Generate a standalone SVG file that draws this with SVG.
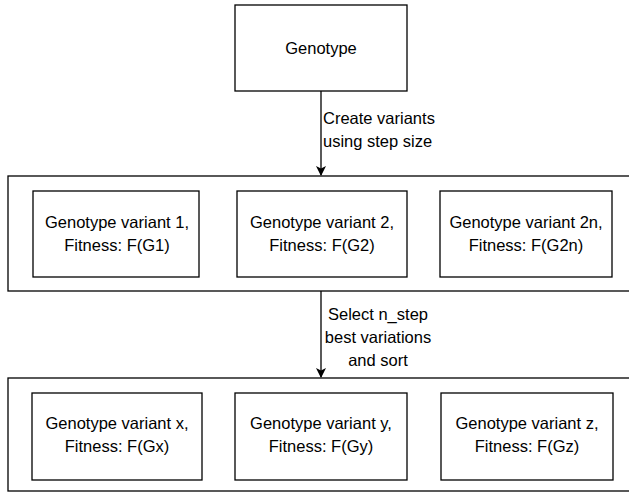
<svg xmlns="http://www.w3.org/2000/svg" width="629" height="495" viewBox="0 0 629 495">
<style>
.box{fill:#fff;stroke:#000;stroke-width:1.3}
.t{font-family:"Liberation Sans",Arial,sans-serif;font-size:16.5px;fill:#000}
.c{text-anchor:middle}
.edge{stroke:#000;stroke-width:1.3;fill:none}
</style>
<defs>
<marker id="arr" markerWidth="10" markerHeight="12" refX="9" refY="5" orient="auto" markerUnits="userSpaceOnUse">
<path d="M0,0 L10,5 L0,10 L2.5,5 Z" fill="#000"/>
</marker>
</defs>
<rect width="629" height="495" fill="#fff"/>
<g id="genotype">
<rect class="box" x="235" y="5" width="172" height="86"/>
<text class="t c" x="321" y="54">Genotype</text>
</g>
<g id="container1">
<rect class="box" x="8" y="176" width="630" height="115"/>
</g>
<g id="variant1">
<rect class="box" x="33" y="191" width="166" height="86"/>
<text class="t c" x="117" y="228">Genotype variant 1,</text>
<text class="t c" x="117" y="251">Fitness: F(G1)</text>
</g>
<g id="variant2">
<rect class="box" x="237" y="191" width="170" height="86"/>
<text class="t c" x="322" y="228">Genotype variant 2,</text>
<text class="t c" x="322" y="251">Fitness: F(G2)</text>
</g>
<g id="variant2n">
<rect class="box" x="440" y="191" width="172" height="86"/>
<text class="t c" x="526" y="228">Genotype variant 2n,</text>
<text class="t c" x="526" y="251">Fitness: F(G2n)</text>
</g>
<g id="container2">
<rect class="box" x="8" y="378" width="630" height="113"/>
</g>
<g id="variantx">
<rect class="box" x="32" y="393" width="170" height="87"/>
<text class="t c" x="117" y="429">Genotype variant x,</text>
<text class="t c" x="117" y="452">Fitness: F(Gx)</text>
</g>
<g id="varianty">
<rect class="box" x="235" y="393" width="172" height="87"/>
<text class="t c" x="321" y="429">Genotype variant y,</text>
<text class="t c" x="321" y="452">Fitness: F(Gy)</text>
</g>
<g id="variantz">
<rect class="box" x="441" y="393" width="172" height="87"/>
<text class="t c" x="527" y="429">Genotype variant z,</text>
<text class="t c" x="527" y="452">Fitness: F(Gz)</text>
</g>
<g id="connectors">
<line class="edge" x1="321" y1="91" x2="321" y2="175" marker-end="url(#arr)"/>
<line class="edge" x1="321" y1="291" x2="321" y2="377" marker-end="url(#arr)"/>
<text class="t" x="323" y="124">Create variants</text>
<text class="t" x="323" y="147">using step size</text>
<text class="t c" x="378" y="320">Select n_step</text>
<text class="t c" x="378" y="343">best variations</text>
<text class="t c" x="378" y="366">and sort</text>
</g>
</svg>
